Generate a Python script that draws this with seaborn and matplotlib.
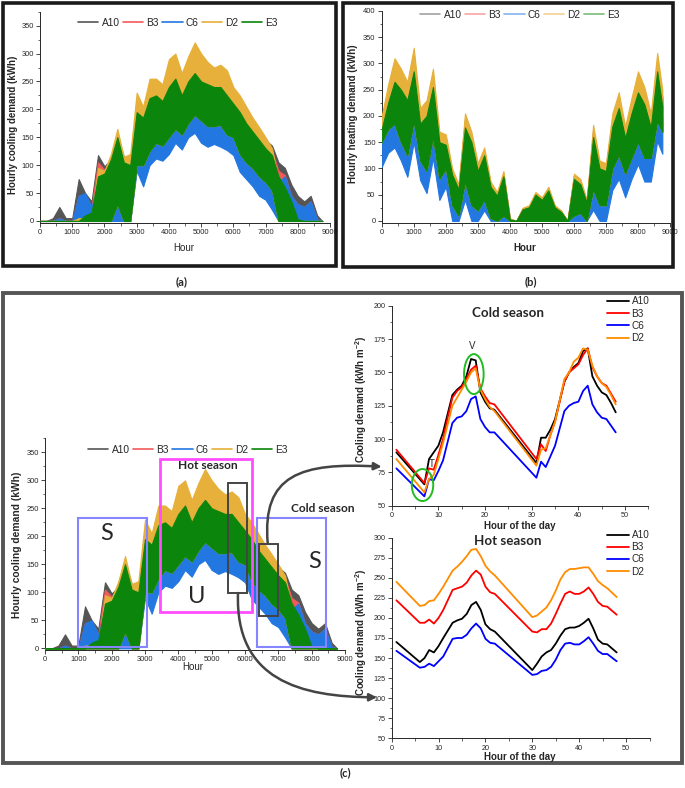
import matplotlib
matplotlib.use('Agg')
import matplotlib.pyplot as plt
from matplotlib.patches import Rectangle, Ellipse, FancyArrowPatch
from matplotlib.path import Path
from matplotlib.lines import Line2D
from matplotlib.ticker import MultipleLocator
import seaborn as sns
import pandas as pd

sns.set_style('ticks')
plt.rcParams['font.family'] = ['Liberation Sans', 'DejaVu Sans']
plt.rcParams['mathtext.default'] = 'regular'

W, H = 685, 788

#hourly envelopes (upper / lower of the daily swing), read every 200 h
hours = [0, 200, 400, 600, 800, 1000, 1200, 1400, 1600, 1800, 2000, 2200, 2400, 2600, 2800,
         3000, 3200, 3400, 3600, 3800, 4000, 4200, 4400, 4600, 4800, 5000, 5200, 5400, 5600, 5800,
         6000, 6200, 6400, 6600, 6800, 7000, 7200, 7400, 7600, 7800, 8000, 8200, 8400, 8600, 8760]

buildings = ['A10', 'B3', 'C6', 'D2', 'E3']

#cooling (a) and (c)
cool_a10_hi = [0, 0, 5, 25, 5, 5, 75, 50, 35, 118, 98, 110, 155, 115, 105, 215, 190, 235, 240, 225, 265, 280, 245,
               270, 295, 275, 265, 255, 260, 250, 225, 210, 195, 175, 160, 145, 135, 105, 95, 65, 45, 35, 45, 10, 0]
cool_b3_hi = [0, 0, 0, 5, 0, 0, 45, 48, 25, 105, 92, 100, 145, 105, 100, 205, 180, 225, 230, 215, 255, 270, 235,
              260, 285, 265, 255, 245, 250, 240, 215, 200, 185, 165, 150, 138, 126, 90, 82, 45, 30, 25, 35, 3, 0]
cool_c6_hi = [0, 0, 0, 5, 0, 0, 45, 50, 25, 70, 75, 95, 130, 90, 90, 170, 160, 185, 185, 180, 200, 210, 190,
              205, 215, 205, 200, 195, 195, 185, 170, 160, 140, 130, 115, 105, 95, 70, 80, 45, 30, 25, 35, 3, 0]
cool_d2_hi = [0, 0, 0, 0, 0, 0, 5, 5, 5, 95, 90, 120, 165, 115, 120, 230, 205, 255, 255, 245, 290, 300, 265,
              295, 320, 300, 285, 275, 280, 270, 240, 225, 205, 185, 168, 150, 130, 70, 50, 30, 0, 0, 0, 0, 0]
cool_e3_hi = [0, 0, 0, 0, 0, 0, 0, 10, 15, 80, 85, 110, 150, 105, 100, 195, 185, 220, 225, 215, 240, 255, 225,
              250, 265, 250, 245, 240, 240, 225, 210, 195, 175, 160, 145, 130, 118, 80, 60, 35, 3, 0, 0, 0, 0]
cool_lo = [0, 0, 0, 0, 0, 0, 0, 0, 0, 0, 0, 0, 30, 0, 0, 100, 100, 125, 140, 135, 150, 165, 155,
           175, 190, 180, 170, 170, 172, 155, 150, 120, 105, 95, 80, 70, 55, 0, 0, 0, 0, 0, 0, 0, 0]
cool_c6_lo = [0, 0, 0, 0, 0, 0, 0, 0, 0, 0, 0, 0, 0, 0, 0, 90, 62, 100, 112, 108, 120, 140, 128,
              150, 158, 140, 133, 138, 133, 127, 118, 88, 75, 62, 45, 38, 20, 0, 0, 0, 0, 0, 0, 0, 0]

#heating (b)
heat_a10_hi = [190, 245, 290, 272, 250, 310, 202, 218, 275, 160, 157, 95, 66, 193, 162, 104, 133, 70, 52, 90, 4, 0, 24,
               28, 53, 43, 62, 28, 19, 0, 86, 76, 38, 173, 108, 104, 194, 232, 170, 222, 268, 240, 193, 305, 236]
heat_b3_hi = [185, 240, 283, 265, 245, 302, 198, 212, 268, 157, 154, 92, 64, 188, 158, 101, 130, 68, 50, 88, 4, 0, 23,
              27, 52, 42, 60, 27, 18, 0, 84, 74, 37, 169, 105, 101, 190, 226, 166, 217, 262, 235, 189, 298, 230]
heat_c6_hi = [165, 200, 225, 200, 180, 240, 150, 150, 210, 115, 120, 60, 35, 130, 90, 60, 85, 35, 25, 50, 0, 0, 12,
              15, 30, 22, 35, 15, 10, 0, 45, 40, 20, 110, 65, 60, 140, 170, 125, 160, 195, 170, 150, 235, 195]
heat_d2_hi = [200, 260, 310, 290, 265, 330, 215, 230, 290, 170, 165, 100, 70, 205, 170, 110, 140, 75, 55, 95, 5, 0, 25,
              30, 55, 45, 65, 30, 20, 0, 90, 80, 40, 183, 115, 110, 205, 245, 180, 235, 285, 255, 205, 320, 250]
heat_e3_hi = [175, 225, 265, 250, 230, 285, 185, 200, 255, 150, 145, 88, 60, 178, 150, 95, 125, 65, 48, 85, 3, 0, 22,
              26, 50, 40, 58, 26, 17, 0, 80, 70, 35, 160, 100, 95, 180, 215, 158, 205, 245, 222, 178, 285, 218]
heat_lo = [150, 175, 185, 150, 125, 190, 115, 95, 160, 80, 100, 30, 10, 75, 30, 20, 40, 5, 0, 10, 0, 0, 0,
           0, 0, 0, 0, 0, 0, 0, 10, 15, 0, 60, 30, 30, 100, 125, 90, 120, 150, 120, 120, 190, 170]
heat_c6_lo = [103, 130, 140, 115, 84, 150, 78, 53, 120, 40, 65, 0, 0, 40, 0, 0, 20, 0, 0, 0, 0, 0, 0,
              0, 0, 0, 0, 0, 0, 0, 0, 0, 0, 21, 0, 0, 59, 80, 45, 80, 108, 75, 75, 152, 128]

#typical days (two days, hour of the day)
day_series = ['A10', 'B3', 'C6', 'D2']
cold_hours = [1, 7, 8, 9, 10, 11, 12, 13, 14, 15, 16, 17, 18, 19, 20, 21, 22, 31, 32, 33, 34, 35, 37, 38, 39, 40,
              41, 42, 43, 44, 45, 46, 47, 48]
cold_a10 = [90, 66, 85, 90, 95, 105, 119, 133, 137, 140, 147, 160, 159, 135, 128, 123, 122, 82, 101, 101, 107, 115,
            143, 150, 154, 157, 166, 168, 147, 140, 135, 133, 127, 120]
cold_b3 = [92, 67, 78, 77, 88, 100, 116, 131, 136, 139, 145, 152, 155, 138, 132, 127, 126, 85, 96, 91, 103, 113,
           143, 150, 153, 156, 163, 168, 154, 147, 142, 140, 134, 128]
cold_c6 = [78, 57, 70, 69, 76, 84, 98, 112, 116, 117, 121, 130, 132, 115, 109, 105, 105, 71, 83, 79, 87, 95,
           121, 125, 127, 128, 136, 140, 126, 120, 116, 115, 110, 105]
cold_d2 = [85, 60, 70, 73, 85, 97, 111, 125, 131, 137, 143, 150, 153, 137, 130, 124, 121, 80, 92, 93, 103, 113,
           145, 150, 158, 161, 168, 167, 155, 147, 142, 139, 133, 126]

hot_hours = [1, 6, 7, 8, 9, 10, 11, 13, 14, 15, 16, 17, 18, 19, 20, 21, 22, 30, 31, 32, 33, 34, 35, 36, 37, 38,
             39, 40, 41, 42, 43, 44, 45, 46, 48]
hot_a10 = [170, 145, 150, 160, 157, 165, 175, 194, 197, 199, 205, 216, 220, 210, 192, 186, 183, 135, 143, 152, 157,
           160, 168, 178, 186, 188, 188, 190, 194, 199, 187, 173, 168, 167, 157]
hot_b3 = [222, 194, 194, 198, 193, 200, 210, 235, 237, 239, 244, 253, 259, 254, 239, 232, 230, 183, 182, 186, 186,
          193, 205, 218, 230, 233, 230, 230, 233, 238, 230, 220, 215, 214, 204]
hot_c6 = [159, 138, 139, 143, 140, 146, 152, 174, 175, 175, 179, 187, 193, 187, 174, 169, 168, 129, 130, 134, 135,
          139, 148, 160, 168, 169, 167, 167, 171, 176, 168, 159, 155, 155, 146]
hot_d2 = [245, 215, 216, 221, 222, 230, 239, 259, 264, 270, 277, 285, 286, 277, 265, 258, 253, 201, 203, 208, 213,
          222, 234, 248, 257, 261, 261, 262, 263, 263, 255, 246, 241, 237, 226]

band_colors = {'A10': '#555555', 'B3': '#f25a5a', 'C6': '#2277e0', 'D2': '#e6b03a', 'E3': '#0b850b'}
line_colors = {'A10': '#000000', 'B3': '#ff0000', 'C6': '#0000ff', 'D2': '#ff8c00'}

cool_hi = {'A10': cool_a10_hi, 'B3': cool_b3_hi, 'C6': cool_c6_hi, 'D2': cool_d2_hi, 'E3': cool_e3_hi}
cool_low = {'A10': cool_lo, 'B3': cool_lo, 'C6': cool_c6_lo, 'D2': cool_lo, 'E3': cool_lo}
heat_hi = {'A10': heat_a10_hi, 'B3': heat_b3_hi, 'C6': heat_c6_hi, 'D2': heat_d2_hi, 'E3': heat_e3_hi}
heat_low = {'A10': heat_lo, 'B3': heat_lo, 'C6': heat_c6_lo, 'D2': heat_lo, 'E3': heat_lo}


def fx(px):
    return px / W


def fy(py):
    return 1 - py / H


fig = plt.figure(figsize=(W / 100, H / 100), dpi=100)


def px_axes(left, top, right, bottom):
    return fig.add_axes([fx(left), fy(bottom), (right - left) / W, (bottom - top) / H])


def draw_bands(ax, hi, lo):
    ''' daily swing of each building drawn as a filled band, E3 last (on top) '''
    for i, b in enumerate(buildings):
        ax.fill_between(hours, lo[b], hi[b], color=band_colors[b], lw=0.8, zorder=2 + i)


def style_hourly(ax, ylow, ytop, legend_xy, legend_alpha=1.0):
    ax.set_xlim(0, 9000)
    ax.set_ylim(ylow, ytop)
    ax.xaxis.set_major_locator(MultipleLocator(1000))
    ax.xaxis.set_minor_locator(MultipleLocator(500))
    ax.yaxis.set_major_locator(MultipleLocator(50))
    ax.yaxis.set_minor_locator(MultipleLocator(25))
    sns.despine(ax=ax)
    for s in ['left', 'bottom']:
        ax.spines[s].set_linewidth(0.7)
    ax.tick_params(which='major', length=3, width=0.6, labelsize=5.4, pad=1.5)
    ax.tick_params(which='minor', length=1.8, width=0.5)
    ax.set_xlabel('')
    ax.set_ylabel('')
    handles = [Line2D([0], [0], color=band_colors[b], lw=1.2, alpha=legend_alpha) for b in buildings]
    ax.legend(handles, buildings, loc='center', bbox_to_anchor=(fx(legend_xy[0]), fy(legend_xy[1])),
              bbox_transform=fig.transFigure, ncol=5, frameon=False, fontsize=7.3,
              handlelength=2.0, handletextpad=0.3, columnspacing=0.35, borderpad=0)


# ---- (a) hourly cooling ----
ax_a = px_axes(40, 11.7, 330, 223.2)
draw_bands(ax_a, cool_hi, cool_low)
style_hourly(ax_a, -4, 375, (178, 23))
fig.text(fx(13), fy(125), 'Hourly cooling demand (kWh)', rotation=90, ha='center', va='center',
         fontsize=7, fontweight='bold')
fig.text(fx(184), fy(248), 'Hour', ha='center', va='center', fontsize=7)

# ---- (b) hourly heating ----
ax_b = px_axes(381.7, 11, 670, 223)
draw_bands(ax_b, heat_hi, heat_low)
style_hourly(ax_b, -4, 400, (520, 15), legend_alpha=0.55)
fig.text(fx(353), fy(114), 'Hourly heating demand (kWh)', rotation=90, ha='center', va='center',
         fontsize=7, fontweight='bold')
fig.text(fx(525), fy(248), 'Hour', ha='center', va='center', fontsize=7, fontweight='bold')

# ---- (c) left: cooling with season boxes ----
ax_c = px_axes(45, 438.3, 345, 649.5)
draw_bands(ax_c, cool_hi, cool_low)
style_hourly(ax_c, -2, 375, (188, 450))
fig.text(fx(16.7), fy(545), 'Hourly cooling demand (kWh)', rotation=90, ha='center', va='center',
         fontsize=7.4, fontweight='bold')
fig.text(fx(193), fy(667), 'Hour', ha='center', va='center', fontsize=7)

#season boxes: (x0, x1, y0, y1, colour, width)
boxes = [(980, 3070, 3, 232, '#8585ff', 1.5), (3450, 6200, 65, 338, '#ff4dff', 2.0),
         (6350, 8420, 3, 232, '#8585ff', 1.5), (5480, 6070, 99, 296, '#444444', 1.4),
         (6420, 7000, 58, 186, '#444444', 1.4)]
for x0, x1, y0, y1, col, lw in boxes:
    ax_c.add_patch(Rectangle((x0, y0), x1 - x0, y1 - y0, fill=False, edgecolor=col, lw=lw, zorder=10))
ax_c.text(1850, 205, 'S', ha='center', va='center', fontsize=17, family='Lato', zorder=11)
ax_c.text(4550, 92, 'U', ha='center', va='center', fontsize=17, family='Lato', zorder=11)
ax_c.text(8080, 155, 'S', ha='center', va='center', fontsize=17, family='Lato', zorder=11)
ax_c.text(4870, 326, 'Hot season', ha='center', va='center', fontsize=8.6, fontweight='bold',
          family='Lato', zorder=11)
ax_c.text(8330, 250, 'Cold season', ha='center', va='center', fontsize=8.6, fontweight='bold',
          family='Lato', zorder=11, clip_on=False)


def day_frame(hours_list, series_values):
    parts = []
    for name, vals in zip(day_series, series_values):
        parts.append(pd.DataFrame({'hour': hours_list, 'value': vals, 'series': name}))
    return pd.concat(parts, ignore_index=True)


def style_day(ax, ymax, title, title_y, legend_y):
    ax.set_xlim(0, 55)
    ax.set_ylim(50, ymax)
    ax.xaxis.set_major_locator(MultipleLocator(10))
    ax.xaxis.set_minor_locator(MultipleLocator(5))
    ax.yaxis.set_major_locator(MultipleLocator(25))
    ax.yaxis.set_minor_locator(MultipleLocator(12.5))
    sns.despine(ax=ax)
    for s in ['left', 'bottom']:
        ax.spines[s].set_linewidth(0.7)
    ax.tick_params(which='major', length=3, width=0.6, labelsize=5.2, pad=1.5)
    ax.tick_params(which='minor', length=1.8, width=0.5)
    ax.set_xlabel('')
    ax.set_ylabel('')
    fig.text(fx(508), fy(title_y), title, ha='center', va='center', fontsize=9.6, fontweight='bold',
             family='Lato')
    handles = [Line2D([0], [0], color=line_colors[s], lw=1.3) for s in day_series]
    ax.legend(handles, day_series, loc='upper left', bbox_to_anchor=(fx(607), fy(legend_y)),
              bbox_transform=fig.transFigure, frameon=False, fontsize=7.2, borderpad=0, borderaxespad=0,
              handlelength=2.2, handletextpad=0.25, labelspacing=0.22)


# ---- (c) right: cold season day ----
ax_cold = px_axes(391.7, 305.7, 648.4, 505.7)
cold_df = day_frame(cold_hours, [cold_a10, cold_b3, cold_c6, cold_d2])
sns.lineplot(data=cold_df, x='hour', y='value', hue='series', palette=line_colors, estimator=None,
             sort=False, lw=1.3, ax=ax_cold, legend=False)
style_day(ax_cold, 200, 'Cold season', 312.7, 296.5)
ax_cold.add_patch(Ellipse((17.6, 148.7), 4.2, 30, fill=False, edgecolor='#22bb22', lw=1.4, zorder=5))
ax_cold.add_patch(Ellipse((6.6, 65.5), 4.6, 24, fill=False, edgecolor='#22bb22', lw=1.4, zorder=5))
ax_cold.text(17.2, 170, 'V', ha='center', va='center', fontsize=7)
ax_cold.text(8.6, 81, 'T', ha='center', va='center', fontsize=7)
fig.text(fx(361), fy(399), 'Cooling demand (kWh m$^{-2}$)', rotation=90, ha='center', va='center',
         fontsize=7, fontweight='bold')
fig.text(fx(520), fy(526), 'Hour of the day', ha='center', va='center', fontsize=7, fontweight='bold')

# ---- (c) right: hot season day ----
ax_hot = px_axes(391.7, 537.7, 649.5, 738.3)
hot_df = day_frame(hot_hours, [hot_a10, hot_b3, hot_c6, hot_d2])
sns.lineplot(data=hot_df, x='hour', y='value', hue='series', palette=line_colors, estimator=None,
             sort=False, lw=1.3, ax=ax_hot, legend=False)
style_day(ax_hot, 300, 'Hot season', 541, 530)
fig.text(fx(361), fy(632), 'Cooling demand (kWh m$^{-2}$)', rotation=90, ha='center', va='center',
         fontsize=7, fontweight='bold')
fig.text(fx(520), fy(757), 'Hour of the day', ha='center', va='center', fontsize=7, fontweight='bold')

# ---- curved arrows from the windows to the day plots ----
up_arc = Path([(fx(267.7), fy(543)), (fx(262), fy(475)), (fx(300), fy(462)), (fx(381.7), fy(466.7))],
              [Path.MOVETO, Path.CURVE4, Path.CURVE4, Path.CURVE4])
low_arc = Path([(fx(238), fy(593)), (fx(235), fy(680)), (fx(300), fy(697)), (fx(377), fy(697.3))],
               [Path.MOVETO, Path.CURVE4, Path.CURVE4, Path.CURVE4])
for p in [up_arc, low_arc]:
    fig.add_artist(FancyArrowPatch(path=p, arrowstyle='-|>', mutation_scale=11, color='#444444',
                                   lw=1.8, transform=fig.transFigure))

# ---- panel frames and captions ----
frames = [(3, 3, 336, 266, '#1a1a1a', 2.6), (343, 3, 673, 267, '#1a1a1a', 2.6), (3, 293, 682, 763, '#555555', 2.8)]
for x0, y0, x1, y1, col, lw in frames:
    fig.add_artist(Rectangle((fx(x0), fy(y1)), (x1 - x0) / W, (y1 - y0) / H, fill=False, edgecolor=col,
                             lw=lw, transform=fig.transFigure))
fig.text(fx(182), fy(282), '(a)', ha='center', va='center', fontsize=8, fontweight='bold', family='Lato')
fig.text(fx(531), fy(282), '(b)', ha='center', va='center', fontsize=8, fontweight='bold', family='Lato')
fig.text(fx(345), fy(773), '(c)', ha='center', va='center', fontsize=8, fontweight='bold', family='Lato')

fig.savefig('out.png', dpi=100)
